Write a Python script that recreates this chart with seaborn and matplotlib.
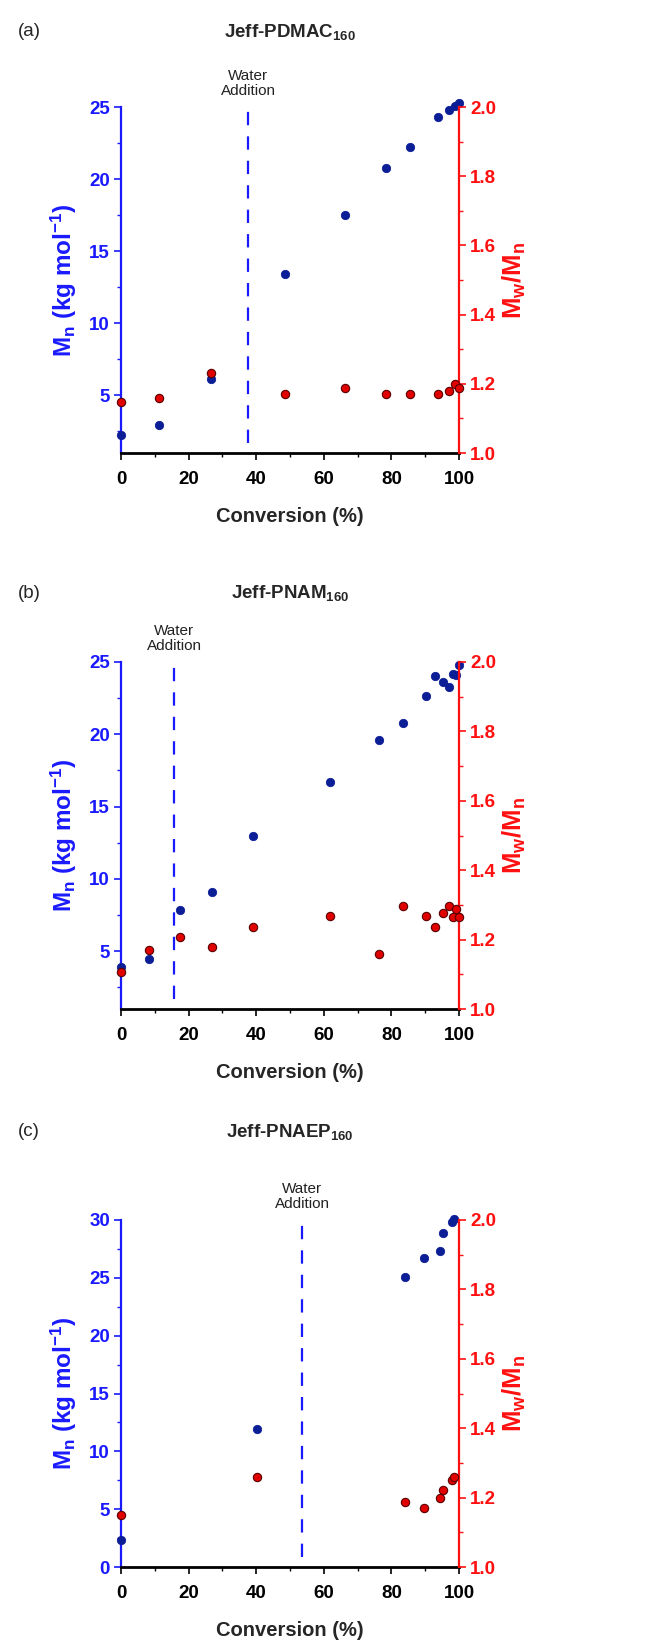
import matplotlib
matplotlib.use("Agg")
import matplotlib.pyplot as plt
import matplotlib.transforms as mtransforms
from matplotlib.ticker import MultipleLocator
import seaborn as sns
import pandas as pd

sns.set_style("white")
plt.rcParams['font.family'] = ['Liberation Sans', 'DejaVu Sans']
plt.rcParams['mathtext.default'] = 'regular'

# ---------------- data ----------------
panel_letters = ["(a)", "(b)", "(c)"]
panel_titles = ["Jeff-PDMAC$_{160}$", "Jeff-PNAM$_{160}$", "Jeff-PNAEP$_{160}$"]
water_addition = [37.6, 15.8, 53.6]

conv_a = [0, 11.3, 26.5, 48.5, 66.3, 78.4, 85.5, 93.9, 97.0, 98.8, 100]
mn_a = [2.25, 2.94, 6.13, 13.4, 17.5, 20.8, 22.2, 24.3, 24.8, 25.05, 25.3]
pdi_a = [1.148, 1.160, 1.230, 1.170, 1.189, 1.170, 1.170, 1.170, 1.179, 1.200, 1.189]

conv_b = [0, 8.2, 17.6, 26.9, 39.2, 61.8, 76.4, 83.4, 90.3, 92.9, 95.4, 96.9, 98.1, 99.1, 100]
mn_b = [3.93, 4.44, 7.85, 9.07, 12.98, 16.68, 19.6, 20.76, 22.65, 24.03, 23.6, 23.25, 24.2, 24.1, 24.8]
pdi_b = [1.107, 1.170, 1.208, 1.178, 1.237, 1.268, 1.158, 1.298, 1.268, 1.237, 1.278, 1.298, 1.264, 1.288, 1.266]

conv_c = [0, 40.1, 84.1, 89.6, 94.4, 95.2, 97.9, 98.5]
mn_c = [2.33, 11.9, 25.09, 26.68, 27.29, 28.9, 29.8, 30.1]
pdi_c = [1.150, 1.260, 1.188, 1.169, 1.200, 1.222, 1.251, 1.260]

mn_limits = [(1, 25), (1, 25), (0, 30)]
pdi_limits = (1.0, 2.0)
x_ticks = [0, 20, 40, 60, 80, 100]
pdi_ticks = [1.0, 1.2, 1.4, 1.6, 1.8, 2.0]

convs = [conv_a, conv_b, conv_c]
mns = [mn_a, mn_b, mn_c]
pdis = [pdi_a, pdi_b, pdi_c]

BLUE_AX = "#1a1aff"
BLUE_PT = "#0c1e96"
RED_AX = "#ff1010"
RED_PT = "#e00000"

FS_TICK = 13.5
FS_XLAB = 14.5
FS_YLAB = 17.5
FS_TITLE = 13.5
FS_WATER = 11

W, H = 665, 1643
fig = plt.figure(figsize=(W / 100, H / 100), dpi=100)

boxes = [(107, 453), (662, 1009), (1220, 1567)]
left_px, right_px = 121, 459

for i in range(3):
    top, bot = boxes[i]
    ax = fig.add_axes([left_px / W, (H - bot) / H, (right_px - left_px) / W, (bot - top) / H])
    ax2 = ax.twinx()
    df = pd.DataFrame({"conv": convs[i], "mn": mns[i], "pdi": pdis[i]})

    sns.scatterplot(data=df, x="conv", y="mn", ax=ax, color=BLUE_PT, s=36,
                    edgecolor=BLUE_PT, linewidth=0.6, zorder=3, clip_on=False)
    sns.scatterplot(data=df, x="conv", y="pdi", ax=ax2, color=RED_PT, s=36,
                    edgecolor="#5a0000", linewidth=0.8, zorder=3, clip_on=False)

    ax.set_xlim(0, 100)
    ax.set_ylim(*mn_limits[i])
    ax2.set_ylim(*pdi_limits)
    ax.set_xticks(x_ticks)
    ax.xaxis.set_minor_locator(MultipleLocator(10))
    ax.yaxis.set_major_locator(MultipleLocator(5))
    ax.yaxis.set_minor_locator(MultipleLocator(2.5))
    ax2.set_yticks(pdi_ticks)
    ax2.set_yticklabels([f"{t:.1f}" for t in pdi_ticks])
    ax2.yaxis.set_minor_locator(MultipleLocator(0.1))

    ax.axvline(water_addition[i], ymin=0.03, ymax=1.0, color=BLUE_AX, lw=1.6,
               linestyle=(0, (6, 5)), zorder=2)
    trans = mtransforms.blended_transform_factory(ax.transData, ax.transAxes)
    ax.text(water_addition[i], 1.025, "Water\nAddition", transform=trans,
            ha="center", va="bottom", fontsize=FS_WATER, color="#222222", linespacing=1.1)

    for a in (ax, ax2):
        a.spines["top"].set_visible(False)
    ax.spines["right"].set_visible(False)
    ax2.spines["left"].set_visible(False)
    ax2.spines["bottom"].set_visible(False)
    ax.spines["left"].set_color(BLUE_AX)
    ax.spines["left"].set_linewidth(1.6)
    ax2.spines["right"].set_color(RED_AX)
    ax2.spines["right"].set_linewidth(1.6)
    ax.spines["bottom"].set_color("black")
    ax.spines["bottom"].set_linewidth(2.0)

    ax.tick_params(axis="x", which="major", direction="out", length=5, width=1.2,
                   colors="black", labelsize=FS_TICK, pad=8, bottom=True)
    ax.tick_params(axis="x", which="minor", direction="out", length=3, width=1.0,
                   colors="black", bottom=True)
    ax.tick_params(axis="y", which="major", direction="out", length=5, width=1.2,
                   colors=BLUE_AX, labelsize=FS_TICK, pad=3, left=True)
    ax.tick_params(axis="y", which="minor", direction="out", length=3, width=1.0,
                   colors=BLUE_AX, left=True)
    ax2.tick_params(axis="y", which="major", direction="out", length=5, width=1.2,
                    colors=RED_AX, labelsize=FS_TICK, pad=3, right=True)
    ax2.tick_params(axis="y", which="minor", direction="out", length=3, width=1.0,
                    colors=RED_AX, right=True)
    for lab in ax.get_xticklabels() + ax.get_yticklabels() + ax2.get_yticklabels():
        lab.set_fontweight("bold")

    ax.set_xlabel("Conversion (%)", fontsize=FS_XLAB, fontweight="bold", labelpad=14)
    ax.set_ylabel("M$_n$ (kg mol$^{-1}$)", fontsize=FS_YLAB, fontweight="bold", color=BLUE_AX, labelpad=7)
    ax2.set_ylabel("M$_w$/M$_n$", fontsize=FS_YLAB + 1, fontweight="bold", color=RED_AX, labelpad=3)
    ax.grid(False)
    ax2.grid(False)
    ax.patch.set_visible(False)
    ax2.patch.set_visible(False)

    title_y = [32, 593, 1132][i]
    fig.text(18 / W, 1 - title_y / H, panel_letters[i], fontsize=FS_TITLE, ha="left", va="center")
    fig.text(((left_px + right_px) / 2) / W, 1 - title_y / H, panel_titles[i],
             fontsize=FS_TITLE, fontweight="bold", ha="center", va="center")

fig.savefig("out.png", dpi=100, facecolor="white")
